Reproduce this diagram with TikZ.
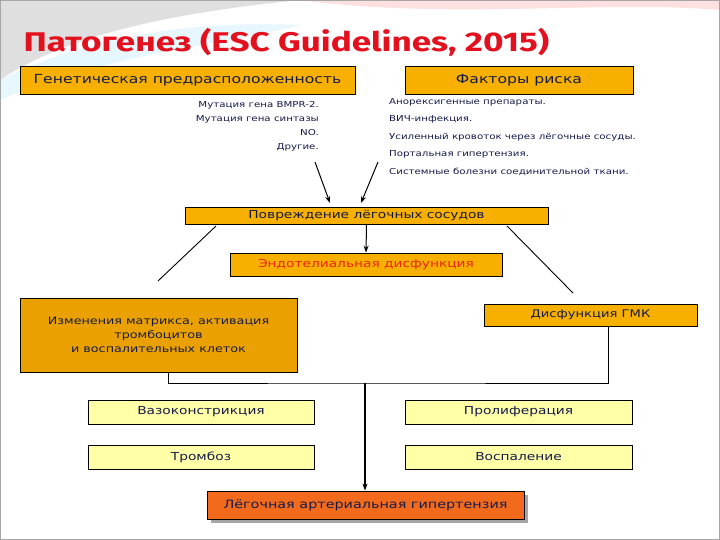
\documentclass[tikz,border=0pt]{standalone}
\usepackage{fontspec}
\setmainfont{DejaVu Sans}[FakeStretch=1.25]
\newfontfamily\ttlfont{Fira Sans}[FakeStretch=1.3]
\usetikzlibrary{arrows.meta}
\definecolor{gold}{HTML}{F7B000}
\definecolor{dgold}{HTML}{EAA100}
\definecolor{lyel}{HTML}{FFFFA8}
\definecolor{pah}{HTML}{F26B1D}
\definecolor{navy}{HTML}{141A4A}
\definecolor{ttl}{HTML}{E3101E}
\tikzset{
 box/.style={draw=black, line width=0.8pt, fill=gold, inner sep=0pt, font=\fontsize{12.5}{14}\selectfont, text=navy},
 ybox/.style={box, fill=lyel, font=\fontsize{11}{13}\selectfont},
 txt/.style={font=\fontsize{8.2}{14}\selectfont, text=navy, inner sep=0pt, align=left},
 arr/.style={-{Stealth[length=7pt,width=5pt]}, line width=1pt},
 ln/.style={line width=0.9pt}
}
\begin{document}
\begin{tikzpicture}[x=1pt,y=-1pt]
\useasboundingbox (0,0) rectangle (720,540);
\fill[white] (0,0) rectangle (720,540);
\fill[red!12] (300,0) .. controls (450,20) and (600,0) .. (720,10) -- (720,0) -- cycle;
\fill[gray!25] (0,0) -- (300,0) .. controls (150,15) and (60,40) .. (0,80) -- cycle;
\fill[cyan!10] (0,80) .. controls (80,40) and (180,20) .. (300,25) .. controls (250,40) and (100,55) .. (0,100) -- cycle;
\draw[gray!70, line width=1pt] (0.5,0.5) rectangle (719.5,539.5);
\node[anchor=west, text=ttl, font=\ttlfont\fontsize{27}{30}\selectfont\bfseries] (title) at (20,42) {Патогенез (ESC Guidelines, 2015)};
\node[box, minimum width=335pt, minimum height=28pt] (gen) at (187.5,80) {Генетическая предрасположенность};
\node[box, minimum width=228pt, minimum height=28pt] (risk) at (519,80) {Факторы риска};
\node[txt, anchor=north east, align=right] (gtxt) at (319,101) {Мутация гена BMPR-2.\\Мутация гена синтазы\\NO.\\Другие.};
\node[txt, anchor=north west, font=\fontsize{8.2}{17.5}\selectfont] (rtxt) at (389,98) {Анорексигенные препараты.\\ВИЧ-инфекция.\\Усиленный кровоток через лёгочные сосуды.\\Портальная гипертензия.\\Системные болезни соединительной ткани.};
\node[box, minimum width=363pt, minimum height=17pt, font=\fontsize{11}{13}\selectfont] (dam) at (366.5,215.5) {Повреждение лёгочных сосудов};
\node[box, minimum width=272pt, minimum height=23pt, text=ttl!80!orange, font=\fontsize{11}{13}\selectfont] (endo) at (366,264.5) {Эндотелиальная дисфункция};
\node[box, fill=dgold, minimum width=277pt, minimum height=74pt, align=center, font=\fontsize{10.2}{14}\selectfont] (mat) at (158.5,335) {Изменения матрикса, активация\\тромбоцитов\\и воспалительных клеток};
\node[box, minimum width=213pt, minimum height=22pt, font=\fontsize{10.5}{13}\selectfont] (gmk) at (590.5,315) {Дисфункция ГМК};
\node[ybox, minimum width=226pt, minimum height=24pt] (vaso) at (201,412) {Вазоконстрикция};
\node[ybox, minimum width=227pt, minimum height=24pt] (prol) at (518.5,412) {Пролиферация};
\node[ybox, minimum width=226pt, minimum height=24pt] (thr) at (201,457) {Тромбоз};
\node[ybox, minimum width=227pt, minimum height=24pt] (infl) at (518.5,457) {Воспаление};
\fill[gray!70] (211,495) rectangle (528,523);
\node[box, fill=pah, minimum width=317pt, minimum height=28pt, font=\fontsize{11.5}{14}\selectfont] (pah) at (365.5,505) {Лёгочная артериальная гипертензия};
\coordinate (a1) at (315,162); \coordinate (a2) at (378,162);
\draw[arr] (a1) -- (330,203);
\draw[arr] (a2) -- (361,203);
\draw[arr] (dam.south) -- (endo.north);
\draw[ln] (216,226) -- (158,281);
\draw[ln] (507,226) -- (573,293);
\coordinate (j) at (365,383);
\draw[ln] (168,372) |- (j) -| (608,326);
\draw[arr, line width=1.3pt] (j) -- (pah.north -| j);
\end{tikzpicture}
\end{document}
